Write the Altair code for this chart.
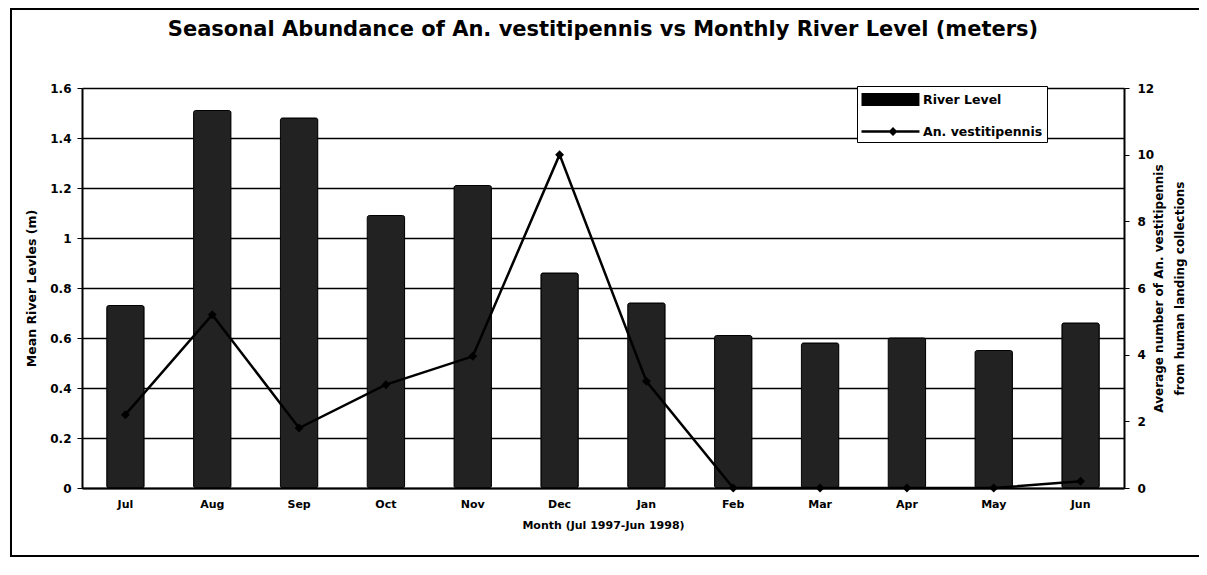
import altair as alt
import pandas as pd

months = ["Jul", "Aug", "Sep", "Oct", "Nov", "Dec", "Jan", "Feb", "Mar", "Apr", "May", "Jun"]
river_level = [0.73, 1.51, 1.48, 1.09, 1.21, 0.86, 0.74, 0.61, 0.58, 0.60, 0.55, 0.66]
vestitipennis = [2.2, 5.2, 1.8, 3.1, 3.95, 10.0, 3.2, 0.0, 0.0, 0.0, 0.0, 0.2]
left_ticks = [0, 0.2, 0.4, 0.6, 0.8, 1, 1.2, 1.4, 1.6]
right_ticks = [0, 2, 4, 6, 8, 10, 12]
series_names = ["River Level", "An. vestitipennis"]

df = pd.DataFrame({"month": months, "level": river_level, "count": vestitipennis})
series_df = pd.DataFrame({"series": series_names})

FONT = "DejaVu Sans"
W, H = 1042, 400

rect_path = "M-1,-0.72L5.44,-0.72L5.44,0.72L-1,0.72Z"
line_path = "M-1,-0.13L5.44,-0.13L5.44,0.13L-1,0.13ZM2.5,-0.5L3,0L2.5,0.5L2,0Z"

xenc = alt.X("month:N", sort=months,
             scale=alt.Scale(paddingInner=0.57, paddingOuter=0.285),
             axis=alt.Axis(title="Month (Jul 1997-Jun 1998)", labelAngle=0, ticks=False,
                           labelPadding=10, titlePadding=10, domainColor="black", domainWidth=2,
                           labelFont=FONT, labelFontSize=11, labelFontWeight="bold", labelColor="black",
                           titleFont=FONT, titleFontSize=11, titleFontWeight="bold", titleColor="black"))

bars = alt.Chart(df).mark_bar(
    fill="#222222", stroke="black", strokeWidth=1, cornerRadius=2
).encode(
    x=xenc,
    y=alt.Y("level:Q", scale=alt.Scale(domain=[0, 1.6], nice=False),
            axis=alt.Axis(title="Mean River Levles (m)", values=left_ticks, format="~g",
                          grid=True, gridColor="black", gridWidth=1.5, gridOpacity=1,
                          domainColor="black", domainWidth=2, tickColor="black", tickSize=5,
                          labelPadding=6, titlePadding=11,
                          labelFont=FONT, labelFontSize=12, labelFontWeight="bold", labelColor="black",
                          titleFont=FONT, titleFontSize=12.5, titleFontWeight="bold", titleColor="black")),
)

line = alt.Chart(df).mark_line(
    strokeWidth=2.5, color="black",
    point=alt.OverlayMarkDef(shape="diamond", size=80, filled=True, color="black"),
).encode(
    x=alt.X("month:N", sort=months),
    y=alt.Y("count:Q", scale=alt.Scale(domain=[0, 12], nice=False),
            axis=alt.Axis(title=["Average number of An. vestitipennis", "from human landing collections"],
                          orient="right", values=right_ticks, grid=False, titleAngle=270,
                          domainColor="black", domainWidth=2, tickColor="black", tickSize=5,
                          labelPadding=8, titlePadding=-9, titleLineHeight=21,
                          labelFont=FONT, labelFontSize=12, labelFontWeight="bold", labelColor="black",
                          titleFont=FONT, titleFontSize=12, titleFontWeight="bold", titleColor="black")),
)

legend_layer = alt.Chart(series_df).mark_point(
    filled=True, fill="black", stroke="black", strokeWidth=1, size=324, opacity=1
).encode(
    x=alt.value(-1000), y=alt.value(200),
    shape=alt.Shape("series:N", scale=alt.Scale(domain=series_names, range=[rect_path, line_path]),
                    legend=alt.Legend(
                        title=None, orient="none", legendX=775, legendY=-2,
                        strokeColor="black", fillColor="white", padding=4,
                        labelFont=FONT, labelFontSize=12.5, labelFontWeight="bold", labelColor="black",
                        labelExpr="datum.label + '\u00a0'",
                        symbolSize=324, symbolFillColor="black", symbolStrokeColor="black",
                        symbolStrokeWidth=1, symbolOpacity=1, rowPadding=14, labelOffset=43)),
)

frame = alt.Chart(alt.Data(values=[{"f": 1}])).mark_rect(
    fill=None, stroke="black", strokeWidth=2
).encode(
    x=alt.value(-71), x2=alt.value(W + 90), y=alt.value(-79), y2=alt.value(H + 68)
)

chart = alt.layer(bars, line, legend_layer, frame).resolve_scale(y="independent").properties(
    width=W, height=H,
    autosize=alt.AutoSizeParams(type="none"),
    padding={"left": 74, "top": 80, "right": 75, "bottom": 70},
    title=alt.TitleParams(
        "Seasonal Abundance of An. vestitipennis vs Monthly River Level (meters)",
        font=FONT, fontSize=21, fontWeight="bold", color="black",
        anchor="middle", frame="group", offset=-32),
).configure_view(stroke="black", strokeWidth=2).configure(background="white")

chart.save("out.html", embed_options={"renderer": "svg", "actions": False})
